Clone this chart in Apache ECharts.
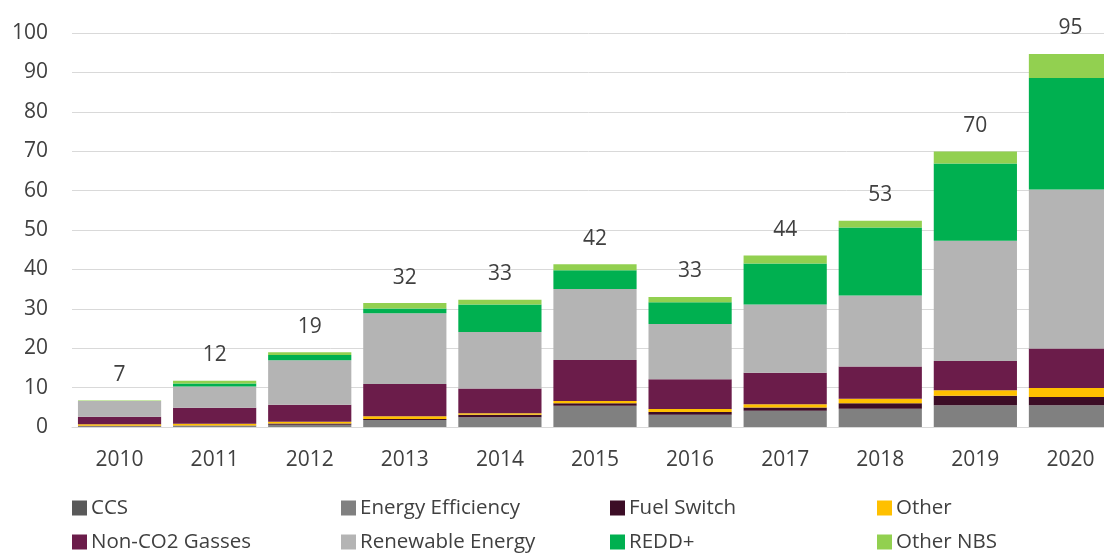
<!DOCTYPE html>
<html>
<head>
<meta charset="utf-8">
<script src="https://cdn.jsdelivr.net/npm/echarts@6/dist/echarts.min.js"></script>
<style>html,body{margin:0;padding:0;background:#fff;}#c{width:1104px;height:553px;}</style>
</head>
<body>
<div id="c"></div>
<script>
const years = ['2010','2011','2012','2013','2014','2015','2016','2017','2018','2019','2020'];
const ccs = [0,0,0,0,0,0,0,0,0,0,0];
const energyEfficiency = [0.2,0.3,0.6,1.8,2.5,5.4,3.1,4.1,4.65,5.5,5.5];
const fuelSwitch = [0.1,0.1,0.3,0.2,0.6,0.6,0.7,0.85,1.4,2.45,2.1];
const other = [0.4,0.4,0.45,0.7,0.4,0.6,0.75,0.85,1.1,1.35,2.3];
const nonCO2 = [1.9,4.1,4.3,8.2,6.3,10.4,7.6,8.0,8.2,7.45,10.0];
const renewable = [4.0,5.4,11.3,18.0,14.3,18.0,14.0,17.3,18.0,30.5,40.4];
const redd = [0,0.75,1.3,1.2,7.0,4.8,5.5,10.4,17.3,19.6,28.3];
const otherNBS = [0.15,0.7,0.7,1.35,1.2,1.5,1.35,2.0,1.7,3.1,6.1];
const totals = [7,12,19,32,33,42,33,44,53,70,95];
const yTicks = [0,10,20,30,40,50,60,70,80,90,100];

const names = ['CCS','Energy Efficiency','Fuel Switch','Other','Non-CO2 Gasses','Renewable Energy','REDD+','Other NBS'];
const colors = ['#595959','#808080','#3c0d26','#ffc000','#6b1c4a','#b4b4b4','#00b050','#92d050'];
const dataSets = [ccs,energyEfficiency,fuelSwitch,other,nonCO2,renewable,redd,otherNBS];

const font = 'Open Sans';
const txt = '#404040';

const series = dataSets.map((d,i)=>({
  name: names[i], type:'bar', stack:'total', data:d,
  barCategoryGap:'12.5%',
  itemStyle:{color:colors[i]},
  label: i===7 ? {show:true, position:'top', distance:15, color:txt, fontFamily:font, fontSize:21,
    formatter:p=>String(totals[p.dataIndex])} : {show:false},
  emphasis:{disabled:true}
}));

const cols = [72,341,610,877];
const rows = [497,531];
const legends = names.map((n,i)=>({
  left:cols[i%4], top:rows[Math.floor(i/4)], padding:0,
  itemWidth:15, itemHeight:15, icon:'rect', selectedMode:false,
  textStyle:{color:txt, fontFamily:font, fontSize:20.5, lineHeight:22, padding:[0,0,0,-1]},
  data:[n]
}));

const chart = echarts.init(document.getElementById('c'));
chart.setOption({
  animation:false,
  color:colors,
  legend:legends,
  grid:{left:72, top:33, width:1046, height:394, containLabel:false, outerBoundsMode:'none'},
  xAxis:{type:'category', data:years,
    axisLine:{lineStyle:{color:'#d9d9d9'}}, axisTick:{show:false},
    axisLabel:{color:txt, fontFamily:font, fontSize:21, margin:23}},
  yAxis:{type:'value', min:yTicks[0], max:yTicks[yTicks.length-1], interval:10,
    axisLine:{show:false}, axisTick:{show:false},
    splitLine:{lineStyle:{color:'#d9d9d9'}},
    axisLabel:{color:txt, fontFamily:font, fontSize:21, margin:24}},
  series:series
});
</script>
</body>
</html>
